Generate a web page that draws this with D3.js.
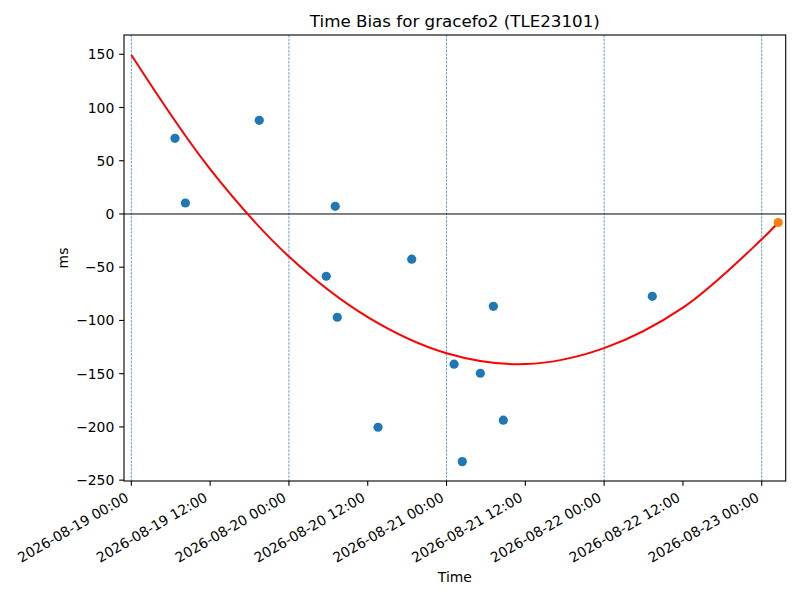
<!DOCTYPE html>
<html>
<head>
<meta charset="utf-8">
<script src="https://cdn.jsdelivr.net/npm/d3@7"></script>
<style>
  body { margin: 0; background: #fff; }
  svg { display: block; font-family: "DejaVu Sans", sans-serif; }
</style>
</head>
<body>
<svg id="chart" width="800" height="600"></svg>
<script>
// observed time bias samples (blue) and the newest one (orange)
const obsTimes = ["2026-08-19T06:39", "2026-08-19T08:14", "2026-08-19T19:29", "2026-08-20T07:03",
  "2026-08-20T05:41", "2026-08-20T07:22", "2026-08-20T13:34", "2026-08-20T18:42",
  "2026-08-21T01:09", "2026-08-21T02:24", "2026-08-21T05:09", "2026-08-21T07:08",
  "2026-08-21T08:39", "2026-08-22T07:20"];
const obsBias = [71.1, 10.3, 88.0, 7.2, -58.5, -97.0, -200.3, -42.5,
  -141.1, -232.6, -149.6, -86.7, -193.7, -77.3];
const latestTime = "2026-08-23T02:31";
const latestBias = -8.0;

// fitted curve, every 12h
const fitTimes = ["2026-08-19T00:00", "2026-08-19T12:00", "2026-08-20T00:00", "2026-08-20T12:00",
  "2026-08-21T00:00", "2026-08-21T12:00", "2026-08-22T00:00", "2026-08-22T12:00",
  "2026-08-23T00:00", "2026-08-23T02:31"];
const fitBias = [149.3, 42.1, -40.0, -96.9, -130.8, -141.0, -126.0, -88.0, -23.8, -8.0];

// vertical day markers
const dayLines = ["2026-08-19T00:00", "2026-08-20T00:00", "2026-08-21T00:00",
  "2026-08-22T00:00", "2026-08-23T00:00"];

const xTicks = ["2026-08-19T00:00", "2026-08-19T12:00", "2026-08-20T00:00", "2026-08-20T12:00",
  "2026-08-21T00:00", "2026-08-21T12:00", "2026-08-22T00:00", "2026-08-22T12:00",
  "2026-08-23T00:00"];
const yTicks = [-250, -200, -150, -100, -50, 0, 50, 100, 150];

const xRange = ["2026-08-18T22:53", "2026-08-23T03:39"];
const yRange = [-250.8, 168.1];

const parse = d3.timeParse("%Y-%m-%dT%H:%M");
const fmt = d3.timeFormat("%Y-%m-%d %H:%M");

const margin = { top: 35, right: 14.3, bottom: 119, left: 124 };
const W = 800, H = 600;
const iw = W - margin.left - margin.right, ih = H - margin.top - margin.bottom;

const svg = d3.select("#chart");
const g = svg.append("g").attr("transform", `translate(${margin.left},${margin.top})`);

const x = d3.scaleTime().domain(xRange.map(parse)).range([0, iw]);
const y = d3.scaleLinear().domain(yRange).range([ih, 0]);

const blue = "#1f77b4", orange = "#ff7f0e";

// day marker lines
g.selectAll(".dayline").data(dayLines).join("line")
  .attr("x1", d => x(parse(d))).attr("x2", d => x(parse(d)))
  .attr("y1", 0).attr("y2", ih)
  .attr("stroke", blue).attr("stroke-width", 0.7)
  .attr("stroke-dasharray", "2.6,1.1");

// zero line
g.append("line")
  .attr("x1", 0).attr("x2", iw).attr("y1", y(0)).attr("y2", y(0))
  .attr("stroke", "black").attr("stroke-width", 1);

// observations
g.selectAll(".obs").data(obsTimes).join("circle")
  .attr("cx", d => x(parse(d)))
  .attr("cy", (d, i) => y(obsBias[i]))
  .attr("r", 4.6)
  .attr("fill", blue);

// fitted curve
const line = d3.line()
  .x(d => x(parse(d[0])))
  .y(d => y(d[1]))
  .curve(d3.curveCatmullRom);
g.append("path")
  .datum(fitTimes.map((t, i) => [t, fitBias[i]]))
  .attr("fill", "none").attr("stroke", "red").attr("stroke-width", 2)
  .attr("d", line);

// latest point on top
g.append("circle")
  .attr("cx", x(parse(latestTime))).attr("cy", y(latestBias))
  .attr("r", 4.6).attr("fill", orange);

// axes
const tickLen = 4.86, pad = 4.86;
const xAxis = g.append("g").attr("transform", `translate(0,${ih})`);
xAxis.selectAll("line").data(xTicks).join("line")
  .attr("x1", d => x(parse(d))).attr("x2", d => x(parse(d)))
  .attr("y1", 0).attr("y2", tickLen)
  .attr("stroke", "black").attr("stroke-width", 1.1);
xAxis.selectAll("text").data(xTicks).join("text")
  .attr("transform", d => `translate(${x(parse(d)) - 1.7},${tickLen + pad + 9.6}) rotate(-30)`)
  .attr("text-anchor", "end")
  .attr("font-size", 13.9)
  .text(d => fmt(parse(d)));

const yAxis = g.append("g");
yAxis.selectAll("line").data(yTicks).join("line")
  .attr("x1", -tickLen).attr("x2", 0)
  .attr("y1", d => y(d)).attr("y2", d => y(d))
  .attr("stroke", "black").attr("stroke-width", 1.1);
yAxis.selectAll("text").data(yTicks).join("text")
  .attr("x", -tickLen - pad)
  .attr("y", d => y(d))
  .attr("dy", "0.36em")
  .attr("text-anchor", "end")
  .attr("font-size", 13.9)
  .text(d => d3.format("d")(d));

// frame
g.append("rect")
  .attr("width", iw).attr("height", ih)
  .attr("fill", "none").attr("stroke", "black").attr("stroke-width", 1.1);

// labels
svg.append("text")
  .attr("x", margin.left + iw / 2).attr("y", 27)
  .attr("text-anchor", "middle").attr("font-size", 16.7)
  .text("Time Bias for gracefo2 (TLE23101)");
svg.append("text")
  .attr("x", margin.left + iw / 2).attr("y", 582)
  .attr("text-anchor", "middle").attr("font-size", 13.9)
  .text("Time");
svg.append("text")
  .attr("transform", `translate(68,${margin.top + ih / 2}) rotate(-90)`)
  .attr("text-anchor", "middle").attr("font-size", 13.9)
  .text("ms");
</script>
</body>
</html>
